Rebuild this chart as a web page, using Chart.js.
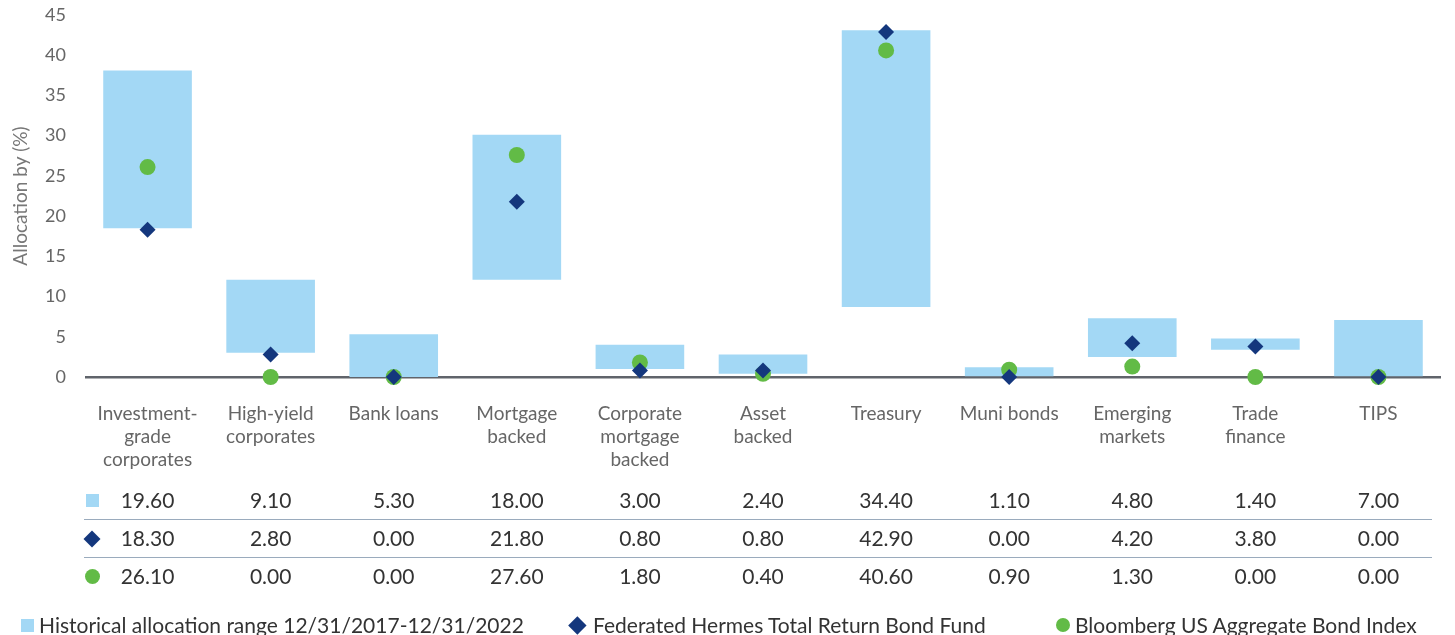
<!DOCTYPE html>
<html>
<head>
<meta charset="utf-8">
<script src="https://cdn.jsdelivr.net/npm/chart.js@4.4.1/dist/chart.umd.min.js"></script>
<style>
  html, body { margin: 0; padding: 0; background: #fff; }
  #wrap { position: relative; width: 1455px; height: 635px; overflow: hidden; font-family: Lato, "Noto Sans", sans-serif; }
  #c { position: absolute; left: 0; top: 0; }
  .cell { position: absolute; width: 120px; margin-left: -60px; text-align: center; font-size: 21px; color: #333; line-height: 24px; }
  .sep { position: absolute; height: 1px; background: #9aabbd; }
  .icon { position: absolute; }
  .leg { position: absolute; font-size: 21px; color: #333; line-height: 24px; white-space: nowrap; }
</style>
</head>
<body>
<div id="wrap">
  <canvas id="c" width="1455" height="635"></canvas>
</div>
<script>
const categories = [
  ["Investment-", "grade", "corporates"],
  ["High-yield", "corporates"],
  ["Bank loans"],
  ["Mortgage", "backed"],
  ["Corporate", "mortgage", "backed"],
  ["Asset", "backed"],
  ["Treasury"],
  ["Muni bonds"],
  ["Emerging", "markets"],
  ["Trade", "finance"],
  ["TIPS"]
];
const rangeLow = [18.5, 3.0, 0.0, 12.1, 1.0, 0.4, 8.7, 0.1, 2.5, 3.4, 0.1];
const rangeSpan = [19.6, 9.1, 5.3, 18.0, 3.0, 2.4, 34.4, 1.1, 4.8, 1.4, 7.0];
const fundValues = [18.3, 2.8, 0.0, 21.8, 0.8, 0.8, 42.9, 0.0, 4.2, 3.8, 0.0];
const indexValues = [26.1, 0.0, 0.0, 27.6, 1.8, 0.4, 40.6, 0.9, 1.3, 0.0, 0.0];
const yTicks = [0, 5, 10, 15, 20, 25, 30, 35, 40, 45];
const legendLabels = [
  "Historical allocation range 12/31/2017-12/31/2022",
  "Federated Hermes Total Return Bond Fund",
  "Bloomberg US Aggregate Bond Index"
];

const BAR = '#a3d8f5', NAVY = '#14377d', GREEN = '#62bb46';
const FONT = 'Lato, "Noto Sans", sans-serif';

const barData = rangeLow.map((lo, i) => [lo, +(lo + rangeSpan[i]).toFixed(2)]);

const chart = new Chart(document.getElementById('c'), {
  type: 'bar',
  data: {
    labels: categories,
    datasets: [
      { type: 'line', label: legendLabels[1], data: fundValues, showLine: false,
        pointStyle: 'rectRot', pointRadius: 8, pointBackgroundColor: NAVY, pointBorderWidth: 0,
        clip: false, order: 1 },
      { type: 'line', label: legendLabels[2], data: indexValues, showLine: false,
        pointStyle: 'circle', pointRadius: 8, pointBackgroundColor: GREEN, pointBorderWidth: 0,
        clip: false, order: 2 },
      { type: 'bar', label: legendLabels[0], data: barData, backgroundColor: BAR,
        borderWidth: 0, barPercentage: 0.72, categoryPercentage: 1.0, order: 3 }
    ]
  },
  options: {
    responsive: false,
    animation: false,
    events: [],
    layout: { padding: { left: 0, right: 15, top: 15, bottom: 0 } },
    plugins: { legend: { display: false }, tooltip: { enabled: false } },
    scales: {
      x: {
        grid: { display: false, drawTicks: false },
        border: { display: true, color: '#60646b', width: 2.5 },
        ticks: { color: '#666', font: { family: FONT, size: 19, lineHeight: 1.21 }, padding: 25,
                 maxRotation: 0, autoSkip: false },
        afterFit: s => { s.height = 258; }
      },
      y: {
        min: 0, max: 45,
        grid: { display: false, drawTicks: false },
        border: { display: false },
        afterBuildTicks: s => { s.ticks = yTicks.map(v => ({ value: v })); },
        ticks: { color: '#666', font: { family: FONT, size: 18 }, padding: 20 },
        title: { display: true, text: 'Allocation by (%)', color: '#777',
                 font: { family: FONT, size: 19 }, padding: { top: 9, bottom: 0 } },
        afterFit: s => { s.width = 86; s.paddingTop = 0; s.paddingBottom = 0; }
      }
    }
  }
});

// Data table and legend as HTML, aligned to the chart's category scale
const wrap = document.getElementById('wrap');
const xs = chart.scales.x;
const rowY = [500, 538, 576];
const rows = [rangeSpan, fundValues, indexValues];
function add(html) { const d = document.createElement('div'); d.innerHTML = html; const el = d.firstChild; wrap.appendChild(el); return el; }

rows.forEach((vals, r) => {
  vals.forEach((v, i) => {
    const el = add('<div class="cell"></div>');
    el.textContent = v.toFixed(2);
    el.style.left = xs.getPixelForValue(i) + 'px';
    el.style.top = (rowY[r] - 12) + 'px';
  });
});
[519, 557].forEach(y => {
  const el = add('<div class="sep"></div>');
  el.style.left = '84px'; el.style.width = '1348px'; el.style.top = y + 'px';
});
function iconSquare(cx, cy, s) { const el = add('<div class="icon"></div>'); el.style.left = (cx - s/2) + 'px'; el.style.top = (cy - s/2) + 'px'; el.style.width = s + 'px'; el.style.height = s + 'px'; el.style.background = BAR; }
function iconDiamond(cx, cy, s) { const el = add('<div class="icon"></div>'); const a = s / Math.SQRT2; el.style.left = (cx - a/2) + 'px'; el.style.top = (cy - a/2) + 'px'; el.style.width = a + 'px'; el.style.height = a + 'px'; el.style.background = NAVY; el.style.transform = 'rotate(45deg)'; }
function iconCircle(cx, cy, s) { const el = add('<div class="icon"></div>'); el.style.left = (cx - s/2) + 'px'; el.style.top = (cy - s/2) + 'px'; el.style.width = s + 'px'; el.style.height = s + 'px'; el.style.background = GREEN; el.style.borderRadius = '50%'; }
iconSquare(92, 500, 13);
iconDiamond(92, 539, 17);
iconCircle(92, 576, 15);

// legend
iconSquare(27, 625, 13);
iconDiamond(577, 625, 18);
iconCircle(1063, 625, 14);
const legX = [39, 593, 1075];
legendLabels.forEach((t, i) => {
  const el = add('<div class="leg"></div>');
  el.textContent = t;
  el.style.left = legX[i] + 'px';
  el.style.top = (625 - 12) + 'px';
});
</script>
</body>
</html>
